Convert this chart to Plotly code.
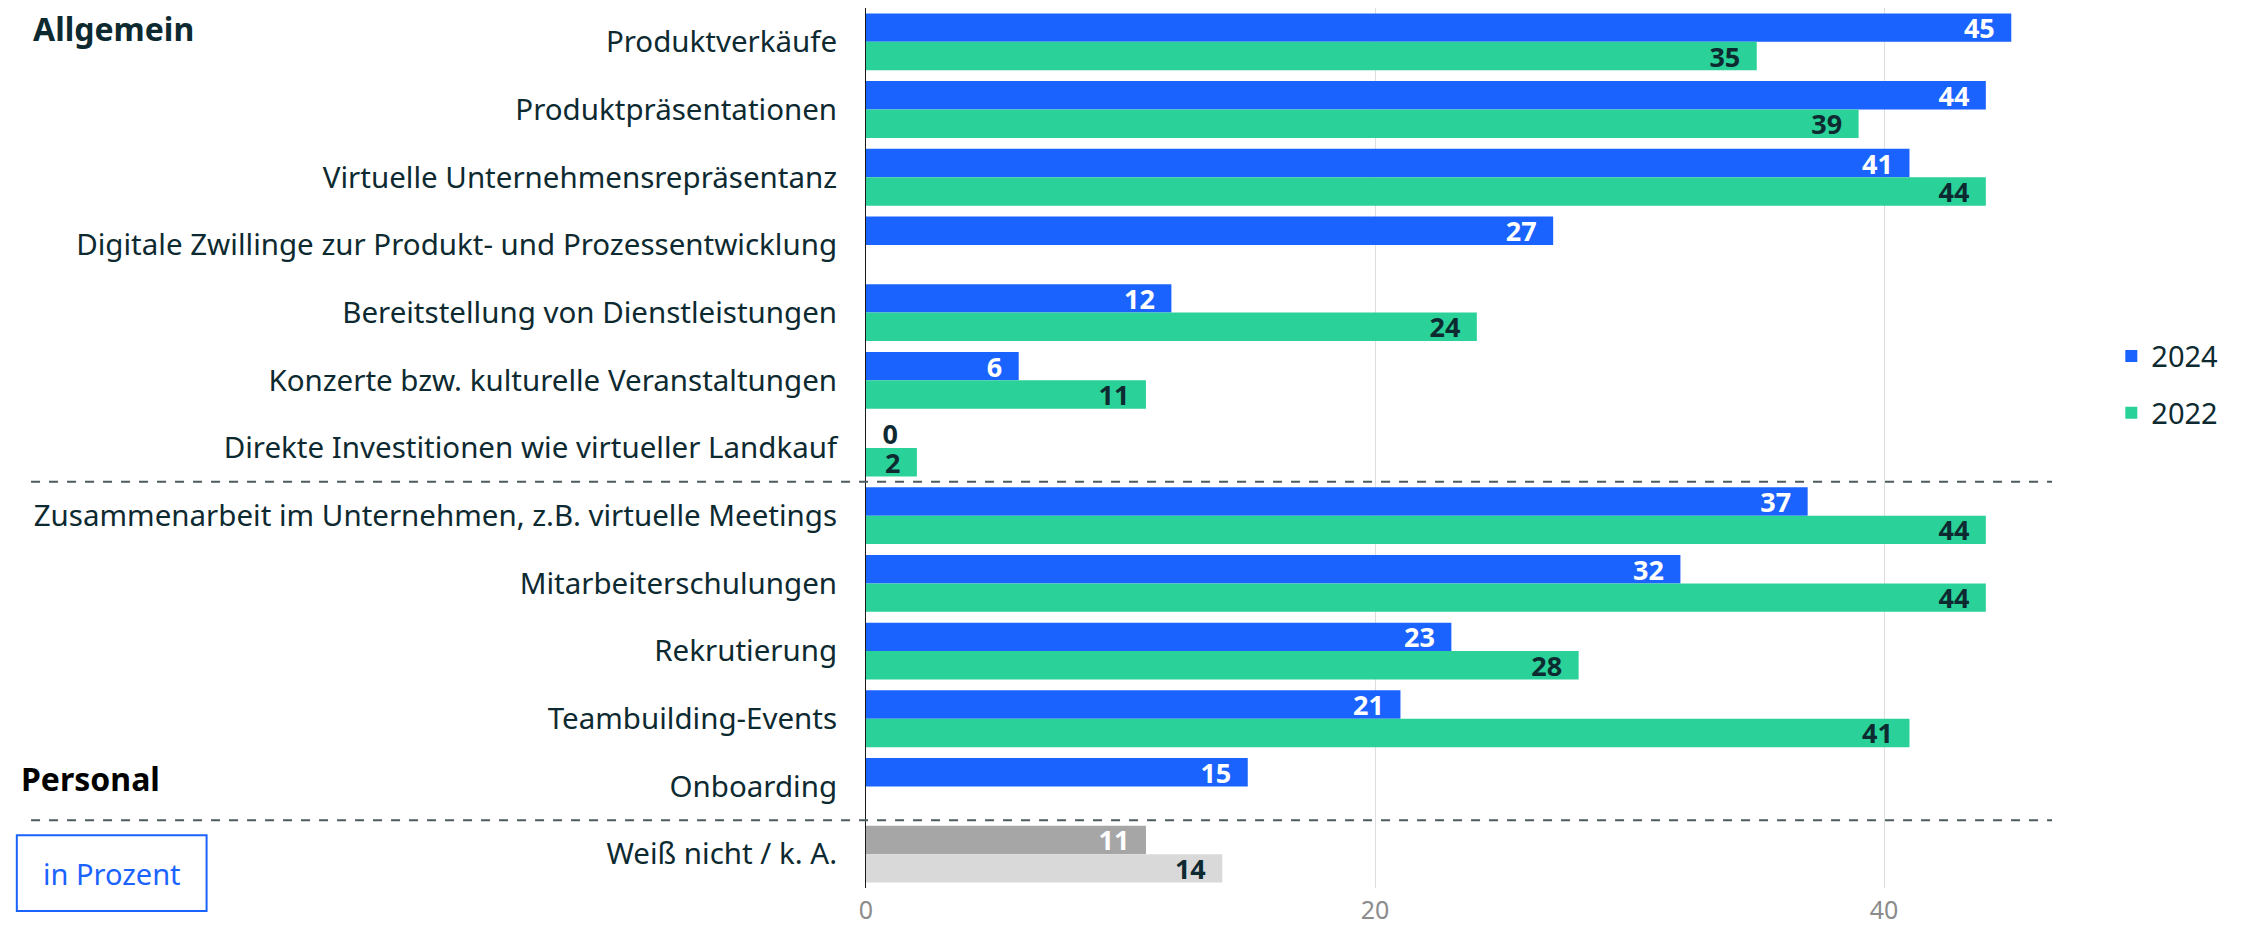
import plotly.graph_objects as go

categories = [
    "Produktverkäufe",
    "Produktpräsentationen",
    "Virtuelle Unternehmensrepräsentanz",
    "Digitale Zwillinge zur Produkt- und Prozessentwicklung",
    "Bereitstellung von Dienstleistungen",
    "Konzerte bzw. kulturelle Veranstaltungen",
    "Direkte Investitionen wie virtueller Landkauf",
    "Zusammenarbeit im Unternehmen, z.B. virtuelle Meetings",
    "Mitarbeiterschulungen",
    "Rekrutierung",
    "Teambuilding-Events",
    "Onboarding",
    "Weiß nicht / k. A.",
]
values_2024 = [45, 44, 41, 27, 12, 6, 0, 37, 32, 23, 21, 15, 11]
values_2022 = [35, 39, 44, None, 24, 11, 2, 44, 44, 28, 41, None, 14]

BLUE = "#1b63ff"
GREEN = "#2ad198"
DARK = "#0e2a31"
FONT = "Noto Sans"
SP = "\u2002"  # en space as padding inside bar ends

n = len(categories)
# last row (Weiß nicht) is drawn in grey
col_2024 = [BLUE] * (n - 1) + ["#a6a6a6"]
col_2022 = [GREEN] * (n - 1) + ["#d9d9d9"]

pos_2024 = ["outside" if v == 0 else "inside" for v in values_2024]
txtcol_2024 = [DARK if v == 0 else "white" for v in values_2024]
txt_2024 = [SP + "0" if v == 0 else f"{v}{SP}" for v in values_2024]
txt_2022 = ["" if v is None else f"{v}{SP}" for v in values_2022]

fig = go.Figure()
fig.add_trace(go.Bar(
    y=categories, x=values_2024, name="2024", orientation="h", legendgroup="a",
    marker=dict(color=col_2024, line_width=0),
    text=txt_2024, textposition=pos_2024, insidetextanchor="end", textangle=0,
    textfont=dict(color=txtcol_2024, size=27, family=FONT, weight="bold"),
    constraintext="none", cliponaxis=False, hoverinfo="x+y",
))
fig.add_trace(go.Bar(
    y=categories, x=values_2022, name="2022", orientation="h", legendgroup="b",
    marker=dict(color=col_2022, line_width=0),
    text=txt_2022, textposition="inside", insidetextanchor="end", textangle=0,
    textfont=dict(color=DARK, size=27, family=FONT, weight="bold"),
    constraintext="none", cliponaxis=False, hoverinfo="x+y",
))

# dashed separators between groups
for yy in [6.5, 11.5]:
    fig.add_shape(type="line", xref="paper", yref="y", x0=-0.704, x1=1.0,
                  y0=yy, y1=yy, line=dict(color="#4d5b5e", width=2, dash="dash"))

# "in Prozent" box
fig.add_shape(type="rect", xref="paper", yref="paper", x0=-0.716, x1=-0.556,
              y0=-0.026, y1=0.060, line=dict(color=BLUE, width=2))
fig.add_annotation(xref="paper", yref="paper", x=-0.636, y=0.017, text="in Prozent",
                   xanchor="center", yanchor="middle", showarrow=False,
                   font=dict(color=BLUE, size=29, family=FONT))

fig.add_annotation(xref="paper", yref="paper", x=-0.704, y=0.977, text="<b>Allgemein</b>",
                   xanchor="left", yanchor="middle", showarrow=False,
                   font=dict(color=DARK, size=32, family=FONT))
fig.add_annotation(xref="paper", yref="paper", x=-0.714, y=0.125, text="<b>Personal</b>",
                   xanchor="left", yanchor="middle", showarrow=False,
                   font=dict(color="black", size=32, family=FONT))

# page body adds an 8px offset, so the figure is 8px smaller than the window
fig.update_layout(
    width=2234, height=921,
    margin=dict(l=858, r=190, t=0, b=41, autoexpand=False),
    paper_bgcolor="white", plot_bgcolor="white",
    barmode="group", bargap=0.16, bargroupgap=0,
    font=dict(family=FONT, color=DARK, size=29),
    legend=dict(x=1.05, y=0.572, yanchor="middle", xanchor="left",
                font=dict(size=29, color=DARK), itemwidth=30, tracegroupgap=16),
    showlegend=True,
)
fig.update_xaxes(range=[0, 46.6], tickvals=[0, 20, 40], showgrid=True, gridcolor="#dddddd",
                 gridwidth=1, zeroline=False, showline=False, automargin=False,
                 tickfont=dict(color="#8c8c8c", size=25), ticklabelstandoff=5)
fig.update_yaxes(autorange="reversed", showline=True, linecolor="#1a1a1a", linewidth=1,
                 ticks="", ticklabelstandoff=22, automargin=False,
                 tickfont=dict(size=29.5, color=DARK))

fig.write_html("out.html")
